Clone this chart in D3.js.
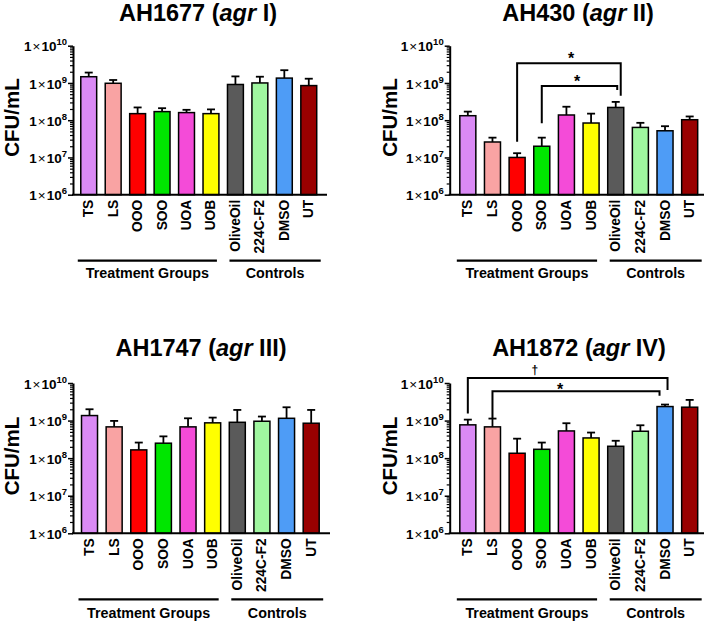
<!DOCTYPE html>
<html><head><meta charset="utf-8">
<script src="https://cdn.jsdelivr.net/npm/d3@7"></script>
<style>
body{margin:0;background:#fff}
text{font-family:"Liberation Sans",Arial,sans-serif;font-weight:bold;fill:#000}
</style>
</head><body><svg id="c" width="708" height="622"></svg>
<script>
// ---------- data ----------
const categories = ["TS","LS","OOO","SOO","UOA","UOB","OliveOil","224C-F2","DMSO","UT"];
const barColors = ["#DA8AF5","#F9A3A3","#FF0000","#00E600","#F44BD8","#FFFF00","#5A5A5A","#A0F7A0","#4E9CF6","#990000"];
const groupLabels = ["Treatment Groups","Controls"];
const groupFirst = ["TS","OliveOil"];
const groupLast = ["UOB","UT"];
const tickValues = [1e6,1e7,1e8,1e9,1e10];
const tickExponents = ["6","7","8","9","10"];
const strainNames = ["AH1677","AH430","AH1747","AH1872"];
const agrTypes = ["I","II","III","IV"];
const yAxisLabel = "CFU/mL";

const mean1677  = [1.47e9,9.8e8,1.5e8,1.7e8,1.6e8,1.5e8,9.1e8,1.0e9,1.35e9,8.5e8];
const upper1677 = [1.9e9,1.2e9,2.2e8,2.1e8,1.9e8,1.95e8,1.5e9,1.47e9,2.2e9,1.3e9];
const mean430   = [1.32e8,2.6e7,1.0e7,2.0e7,1.38e8,8.4e7,2.2e8,6.4e7,5.2e7,1.03e8];
const upper430  = [1.7e8,3.4e7,1.3e7,3.4e7,2.3e8,1.5e8,3.1e8,8.5e7,6.9e7,1.26e8];
const mean1747  = [1.36e9,6.8e8,1.66e8,2.5e8,6.8e8,8.7e8,9.0e8,9.6e8,1.15e9,8.5e8];
const upper1747 = [2.0e9,9.8e8,2.6e8,3.8e8,1.15e9,1.2e9,1.92e9,1.28e9,2.26e9,1.92e9];
const mean1872  = [7.7e8,6.8e8,1.35e8,1.72e8,5.3e8,3.45e8,2.07e8,5.2e8,2.36e9,2.27e9];
const upper1872 = [1.06e9,1.13e9,3.3e8,2.6e8,8.5e8,4.8e8,2.9e8,7.5e8,2.67e9,3.55e9];

const brackets430 = [
  {from:"OOO", to:"OliveOil", top:3.4e9, leftEnd:2.65e7, rightEnd:4.5e8, mark:"*"},
  {from:"SOO", to:"OliveOil", top:8.3e8, leftEnd:8.3e7, rightEnd:6.5e8, mark:"*"}
];
const brackets1872 = [
  {from:"TS", to:"DMSO", top:1.35e10, leftEnd:1.55e9, rightEnd:6.5e9, mark:"\u2020"},
  {from:"LS", to:"DMSO", top:6.0e9, leftEnd:1.15e9, rightEnd:4.6e9, mark:"*"}
];

// ---------- layout ----------
const layouts = [
  {axisX:73,    y0:194.7, y1:45.7, bandL:76.5, bandR:321, axisEnd:327, titleX:198, titleY:21,  labelX:11,  labelY:117.5, gLineY:260.7, gTextY:273.3},
  {axisX:449.7, y0:194.7, y1:45.7, bandL:455.5,bandR:702, axisEnd:704, titleX:578, titleY:21,  labelX:389, labelY:117.5, gLineY:260.7, gTextY:273.3},
  {axisX:73,    y0:533.3, y1:383,  bandL:77.2, bandR:323.5,axisEnd:330,titleX:201, titleY:356, labelX:11,  labelY:456,   gLineY:599.3, gTextY:612.7},
  {axisX:449.7, y0:533.3, y1:383,  bandL:455.5,bandR:702, axisEnd:704, titleX:579, titleY:356, labelX:389, labelY:456,   gLineY:599.3, gTextY:612.7}
];
const bracketStyle = [
  null,
  [{rightNudge:5, markAt:0.52, markDy:1}, {rightNudge:1.5, markAt:0.47, markDy:1}],
  null,
  [{rightNudge:2.5, markAt:0.335, markDy:-4, fs:12}, {rightNudge:-5.5, markAt:0.405, markDy:3.5}]
];
const panelMeans = [mean1677, mean430, mean1747, mean1872];
const panelUppers = [upper1677, upper430, upper1747, upper1872];
const panelBrackets = [[], brackets430, [], brackets1872];

const svg = d3.select("#c");
svg.append("rect").attr("width",708).attr("height",622).attr("fill","#fff");

layouts.forEach((L, p) => {
  const g = svg.append("g");
  const x = d3.scaleBand().domain(categories).range([L.bandL, L.bandR]).paddingInner(0.35).paddingOuter(0.175);
  const y = d3.scaleLog().domain([1e6,1e10]).range([L.y0, L.y1]);
  const bw = x.bandwidth();
  const means = panelMeans[p], uppers = panelUppers[p];

  // title
  const t = g.append("text").attr("x", L.titleX).attr("y", L.titleY).attr("text-anchor","middle").attr("font-size",23.5);
  t.append("tspan").text(strainNames[p] + " (");
  t.append("tspan").attr("font-style","italic").text("agr");
  t.append("tspan").text(" " + agrTypes[p] + ")");

  // y label
  g.append("text").attr("transform", `translate(${L.labelX},${L.labelY}) rotate(-90)`)
    .attr("text-anchor","middle").attr("dominant-baseline","central").attr("font-size",20.5).text(yAxisLabel);

  const rows = categories.map((c,i) => ({c, m:means[i], u:uppers[i], col:barColors[i]}));
  // error bars
  g.selectAll(".err").data(rows).join("line")
    .attr("x1", d => x(d.c)+bw/2).attr("x2", d => x(d.c)+bw/2)
    .attr("y1", d => y(d.m)).attr("y2", d => y(d.u))
    .attr("stroke","#000").attr("stroke-width",1.8);
  g.selectAll(".cap").data(rows).join("line")
    .attr("x1", d => x(d.c)+bw/2-4).attr("x2", d => x(d.c)+bw/2+4)
    .attr("y1", d => y(d.u)).attr("y2", d => y(d.u))
    .attr("stroke","#000").attr("stroke-width",1.8);
  g.selectAll(".bar").data(rows).join("rect")
    .attr("x", d => x(d.c)).attr("width", bw)
    .attr("y", d => y(d.m)).attr("height", d => L.y0 - y(d.m))
    .attr("fill", d => d.col).attr("stroke","#000").attr("stroke-width",1.5);

  // y axis major
  const ax = d3.axisLeft(y).tickValues(tickValues).tickSize(5).tickSizeOuter(0).tickFormat(() => "");
  const ga = g.append("g").attr("transform",`translate(${L.axisX},0)`).call(ax);
  ga.select(".domain").attr("stroke-width",2);
  ga.selectAll(".tick line").attr("stroke-width",1.5);
  ga.selectAll(".tick text").each(function(d,i){
    const s = d3.select(this).text(null).attr("font-size",13.5).attr("x",-6).attr("dy","0.38em")
      .attr("font-family",'"Liberation Sans",Arial,sans-serif').attr("font-weight","bold").attr("fill","#000");
    s.append("tspan").text("1");
    s.append("tspan").attr("font-weight","normal").attr("dx",1).text("\u00d7");
    s.append("tspan").attr("dx",1).text("10");
    s.append("tspan").attr("font-size",9.5).attr("dy",-6).text(tickExponents[i]);
  });
  // y axis minor
  const minor = [];
  for (let e = 6; e < 10; e++) for (let k = 2; k <= 9; k++) minor.push(k * Math.pow(10, e));
  const gm = g.append("g").attr("transform",`translate(${L.axisX},0)`)
    .call(d3.axisLeft(y).tickValues(minor).tickSize(3).tickSizeOuter(0).tickFormat(() => ""));
  gm.select(".domain").remove();
  gm.selectAll(".tick line").attr("stroke-width",1.2);

  // x axis line
  g.append("line").attr("x1", L.axisX-1).attr("x2", L.axisEnd).attr("y1", L.y0).attr("y2", L.y0)
    .attr("stroke","#000").attr("stroke-width",2);

  // category labels
  g.selectAll(".cat").data(categories).join("text")
    .attr("transform", c => `translate(${x(c)+bw/2},${L.y0+5}) rotate(-90)`)
    .attr("text-anchor","end").attr("dominant-baseline","central").attr("font-size",13.8).text(c => c);

  // group lines
  groupLabels.forEach((lab, k) => {
    const a = k === 0 ? x(groupFirst[k]) - 3 : x(groupFirst[k]) + 2;
    const b = k === 0 ? x(groupLast[k]) + bw - 2 : x(groupLast[k]) + bw + 4;
    g.append("line").attr("x1",a).attr("x2",b).attr("y1",L.gLineY).attr("y2",L.gLineY)
      .attr("stroke","#000").attr("stroke-width",2.2);
    g.append("text").attr("x",(a+b)/2).attr("y",L.gTextY).attr("text-anchor","middle")
      .attr("dominant-baseline","central").attr("font-size",14.3).text(lab);
  });

  // brackets
  panelBrackets[p].forEach((br, k) => {
    const st = bracketStyle[p][k];
    const xa = x(br.from) + bw/2;
    const xb = x(br.to) + bw/2 + st.rightNudge;
    const yt = y(br.top);
    g.append("path").attr("d", `M${xa},${y(br.leftEnd)}V${yt}H${xb}V${y(br.rightEnd)}`)
      .attr("fill","none").attr("stroke","#000").attr("stroke-width",2);
    g.append("text").attr("x", xa + (xb-xa)*st.markAt).attr("y", yt + st.markDy)
      .attr("text-anchor","middle").attr("font-size", st.fs || 16).text(br.mark);
  });
});
</script>
</body></html>
